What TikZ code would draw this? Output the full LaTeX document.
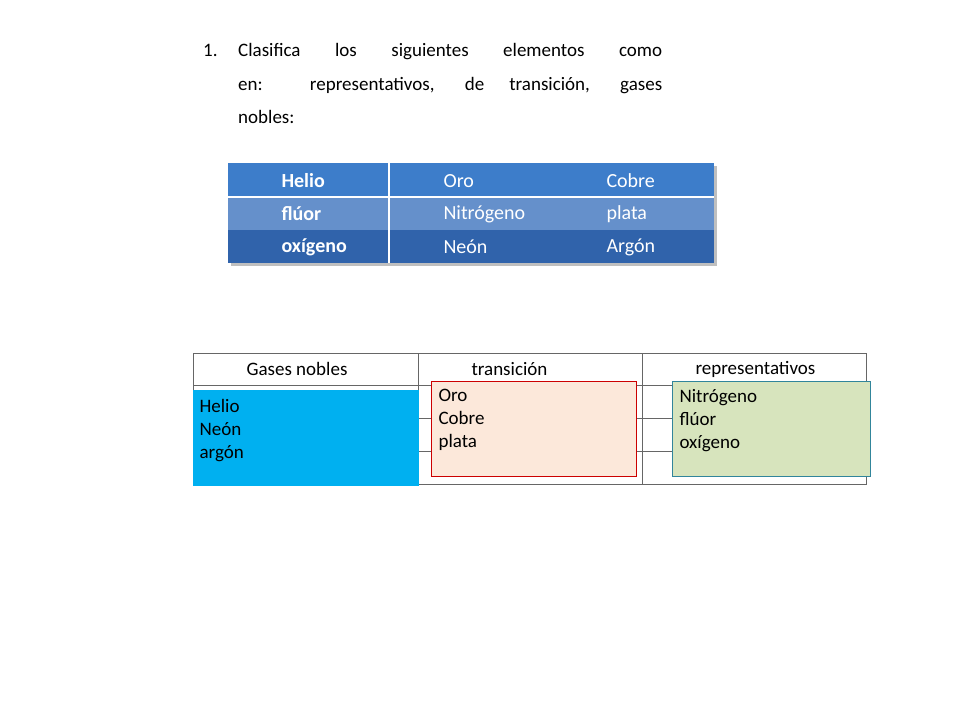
\documentclass[tikz,border=0pt]{standalone}
\usepackage{fontspec}
\setmainfont{Carlito}
\usepackage{tikz}
\tikzset{
  cell/.style={anchor=west,text=white,font=\fontsize{20}{24}\selectfont},
  celltext/.style={anchor=west,font=\fontsize{19}{23}\selectfont},
  qline/.style={anchor=base west,font=\fontsize{19}{23}\selectfont,inner sep=0pt}
}
\begin{document}
\begin{tikzpicture}[x=1pt,y=-1pt]
            \useasboundingbox[fill=white] (0,0) rectangle (960,720);
            % question
            \node[qline] (num) at (203,56) {1.};
            \node[qline] (q1) at (238,56) {\makebox[424pt][s]{Clasifica los siguientes elementos como}};
            \node[qline] (q2) at (238,90) {\makebox[424pt][s]{en: representativos, de transición, gases}};
            \node[qline] (q3) at (238,123) {nobles:};
            % top table
            \fill[black!25] (231,166) rectangle (717,266);
            \fill[blue!55!cyan!70!black!80!white,fill=cyan!10!blue!60!white] (228,163) rectangle (714,197);
            \fill[color={rgb,255:red,61;green,125;blue,202}] (228,163) rectangle (714,197);
            \fill[color={rgb,255:red,101;green,144;blue,203}] (228,197) rectangle (714,230);
            \fill[color={rgb,255:red,48;green,99;blue,171}] (228,230) rectangle (714,263);
            \draw[white,line width=2] (228,197) -- (714,197);
            \draw[white,line width=2] (389,163) -- (389,263);
            \node[cell,font=\fontsize{20}{24}\selectfont\bfseries] (he) at (278,181) {Helio};
            \node[cell,font=\fontsize{20}{24}\selectfont\bfseries] (fl) at (278,214) {flúor};
            \node[cell,font=\fontsize{20}{24}\selectfont\bfseries] (ox) at (278,247) {oxígeno};
            \node[cell] (oro) at (440,181) {Oro};
            \node[cell] (ni) at (440,214) {Nitrógeno};
            \node[cell] (ne) at (440,247) {Neón};
            \node[cell] (cu) at (603,181) {Cobre};
            \node[cell] (ag) at (603,214) {plata};
            \node[cell] (ar) at (603,247) {Argón};
            % bottom table
            \draw[black!60,line width=0.8] (193,353) rectangle (866,484);
            \draw[black!60,line width=0.8] (193,385) -- (866,385);
            \draw[black!60,line width=0.8] (193,418) -- (866,418);
            \draw[black!60,line width=0.8] (193,451) -- (866,451);
            \draw[black!60,line width=0.8] (418,353) -- (418,484);
            \draw[black!60,line width=0.8] (642,353) -- (642,484);
            \node[celltext] (gn) at (243,369) {Gases nobles};
            \node[celltext] (tr) at (468,369) {transición};
            \node[celltext] (rp) at (692,369) {representativos};
            \node[fill={rgb,255:red,0;green,176;blue,240},minimum width=226,minimum height=96,anchor=north west] (blue) at (193,390) {};
            \node[celltext,align=left,anchor=north west] (gasbox) at (196,396) {Helio\\Neón\\argón};
            \node[draw=red!80!black,fill={rgb,255:red,252;green,232;blue,218},minimum width=205,minimum height=95,anchor=north west] (orange) at (431,381) {};
            \node[celltext,align=left,anchor=north west] (trbox) at (435,386) {Oro\\Cobre\\plata};
            \node[draw={rgb,255:red,49;green,133;blue,155},fill={rgb,255:red,215;green,228;blue,189},minimum width=198,minimum height=95,anchor=north west] (green) at (672,381) {};
            \node[celltext,align=left,anchor=north west] (rpbox) at (676,386) {Nitrógeno\\flúor\\oxígeno};
        \end{tikzpicture}
\end{document}
